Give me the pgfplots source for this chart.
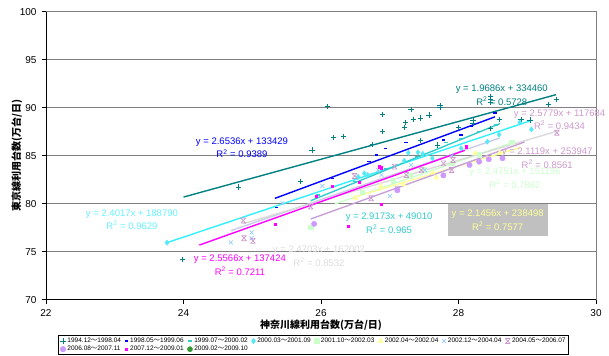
\documentclass[border=0pt]{standalone}
\usepackage{fontspec}
\setmainfont{Liberation Sans}
\newfontfamily\cjk{Noto Sans CJK JP}
\usepackage{pgfplots}
\pgfplotsset{compat=1.18}
\definecolor{cTeal}{HTML}{008080}
\definecolor{cBlue}{HTML}{0000FF}
\definecolor{cTurq}{HTML}{33CCCC}
\definecolor{cCyanL}{HTML}{33F0FF}
\definecolor{cCyanTxt}{HTML}{66F2FF}
\definecolor{cDiam}{HTML}{55E8F5}
\definecolor{cLGreen}{HTML}{CCFFCC}
\definecolor{cLYellow}{HTML}{FFFF99}
\definecolor{cLBlue}{HTML}{99CCFF}
\definecolor{cPlum}{HTML}{CC99CC}
\definecolor{cLav}{HTML}{CC99FF}
\definecolor{cMag}{HTML}{FF00FF}
\definecolor{cGreen}{HTML}{339933}
\definecolor{cGrayLine}{HTML}{DADADA}
\definecolor{cGrayTxt}{HTML}{DDDDDD}
\definecolor{cGrid}{HTML}{808080}
\definecolor{cBlueGray}{HTML}{C8CCE8}
\definecolor{cLavLine}{HTML}{C8A0D8}
\definecolor{cBox}{HTML}{C0C0C0}
\pgfdeclareplotmark{xbar}{%
  \pgfpathmoveto{\pgfqpoint{-\pgfplotmarksize}{-\pgfplotmarksize}}%
  \pgfpathlineto{\pgfqpoint{\pgfplotmarksize}{\pgfplotmarksize}}%
  \pgfpathmoveto{\pgfqpoint{-\pgfplotmarksize}{\pgfplotmarksize}}%
  \pgfpathlineto{\pgfqpoint{\pgfplotmarksize}{-\pgfplotmarksize}}%
  \pgfpathmoveto{\pgfqpoint{-\pgfplotmarksize}{\pgfplotmarksize}}%
  \pgfpathlineto{\pgfqpoint{\pgfplotmarksize}{\pgfplotmarksize}}%
  \pgfpathmoveto{\pgfqpoint{-\pgfplotmarksize}{-\pgfplotmarksize}}%
  \pgfpathlineto{\pgfqpoint{\pgfplotmarksize}{-\pgfplotmarksize}}%
  \pgfusepathqstroke}
\newcommand{\tl}{{\cjk ～}}
\tikzset{eq/.style={font=\fontsize{9.5}{13.5}\selectfont, align=center, inner sep=1pt}}
\begin{document}
\begin{tikzpicture}
\begin{axis}[
  name=ax,
  scale only axis, width=550pt, height=288pt,
  xmin=22, xmax=30, ymin=70, ymax=100,
  xtick={22,24,26,28,30}, ytick={70,75,80,85,90,95,100},
  ymajorgrids, grid style={cGrid, line width=0.8pt},
  axis line style={cGrid, line width=0.8pt},
  tick align=outside, xtick pos=bottom, ytick pos=left, major tick length=4pt,
  tick style={black, line width=0.8pt},
  ticklabel style={font=\fontsize{10}{12}\selectfont},
  xticklabel style={yshift=-2pt},
  yticklabel style={xshift=-2pt},
  /pgf/number format/assume math mode=true,
  clip=false,
  xlabel={\cjk\bfseries 神奈川線利用台数(万台/日)},
  ylabel={\cjk\bfseries 東京線利用台数(万台/日)},
  xlabel style={at={(axis description cs:0.5,-0.09)}, anchor=center, font=\fontsize{10}{12}\selectfont},
  ylabel style={at={(axis description cs:-0.053,0.5)}, anchor=center, font=\fontsize{10}{12}\selectfont},
  legend columns=8,
  legend cell align=left,
  legend style={at={(0.0218,-0.124)}, anchor=north west, draw=black, line width=0.6pt,
    font=\fontsize{6.5}{7.5}\selectfont, inner xsep=2pt, inner ysep=1.5pt,
    nodes={inner sep=0.8pt, anchor=west},
    /tikz/every even column/.append style={column sep=3pt},
    /tikz/every odd column/.append style={column sep=1pt}, row sep=0.5pt},
  legend image code/.code={\draw[mark repeat=2,mark phase=2,#1] plot coordinates {(0pt,0pt)(3pt,0pt)(6pt,0pt)};},
]
% 1994.12-1998.04
\addplot[only marks, mark=+, mark size=2.6pt, line width=0.8pt, color=cTeal] coordinates {
(23.98,74.2)(24.80,81.75)(25.70,82.34)(25.87,85.59)(26.09,90.09)(26.18,86.87)(26.33,87.02)
(26.75,86.18)(26.89,89.33)(26.89,87.54)(27.22,87.95)(27.23,88.43)(27.31,89.82)(27.35,88.78)
(27.45,88.92)(27.45,86.56)(27.57,89.23)(27.69,86.11)(27.73,90.27)(27.73,90.03)(28.00,87.95)
(28.21,88.71)(28.21,88.4)(28.46,87.85)(28.47,91.2)(28.47,90.9)(28.47,90.6)(28.60,88.78)
(28.91,88.78)(29.04,88.71)(29.31,90.34)(29.42,90.86)};
\addlegendentry{1994.12\tl1998.04}
% 1998.05-1999.06
\addplot[only marks, mark=-, mark size=1.8pt, line width=1.3pt, color=cBlue] coordinates {
(25.35,79.6)(26.17,82.65)(26.70,84.38)(26.81,85.07)(26.94,85.77)(27.24,86.39)(27.78,86.63)
(28.04,87.15)(28.19,88.01)(28.53,89.44)};
\addlegendentry{1998.05\tl1999.06}
% 1999.07-2000.02
\addplot[only marks, mark=-, mark size=2pt, line width=1.3pt, color=cTurq] coordinates {
(25.95,80.9)(26.5,82.3)(26.95,83.6)(27.4,84.9)(27.82,86.39)(28.04,86.74)(28.3,87.5)(28.55,88.2)};
\addlegendentry{1999.07\tl2000.02}
% 2000.03-2001.09
\addplot[only marks, mark=diamond*, mark size=2.6pt, color=cDiam] coordinates {
(23.76,75.94)(26.54,82.8)(26.68,82.99)(26.63,83.16)(27.21,84.48)(27.27,85.3)(27.41,85.35)
(27.48,85.2)(27.62,84.73)(28.04,85.77)(28.42,86.46)(28.59,87.2)(28.89,88.47)(29.06,87.74)};
\addlegendentry{2000.03\tl2001.09}
% 2001.10-2002.03
\addplot[only marks, mark=square*, mark size=2.3pt, color=cLGreen] coordinates {
(25.85,77.55)(26.6,81.2)(27.05,82.4)(27.5,83.6)(27.9,84.2)(28.3,85.1)(28.77,86.4)(27.3,82.9)};
\addlegendentry{2001.10\tl2002.03}
% 2002.04-2002.04
\addplot[only marks, mark=triangle*, mark size=2.8pt, color=cLYellow] coordinates {
(26.5,80.6)(26.87,81.85)(27.2,82.0)(27.62,83.22)(27.68,82.71)(28.24,85.25)(28.6,85.3)};
\addlegendentry{2002.04\tl2002.04}
% 2002.12-2004.04
\addplot[only marks, mark=x, mark size=2.8pt, line width=0.7pt, color=cLBlue] coordinates {
(24.69,75.96)(24.99,77.0)(24.99,76.4)(25.44,80.05)(26.02,81.85)(26.83,83.5)(26.88,82.99)
(27.0,80.8)(27.31,84.03)(27.51,83.51)(27.9,85.0)};
\addlegendentry{2002.12\tl2004.04}
% 2004.05-2006.07
\addplot[only marks, mark=xbar, mark size=2.5pt, line width=0.7pt, color=cPlum] coordinates {
(24.87,78.24)(24.88,76.41)(25.01,76.13)(25.85,79.7)(26.49,82.89)(26.73,80.57)(27.07,83.86)
(27.11,81.5)(27.24,82.99)(27.46,83.5)(27.78,84.2)(27.9,83.51)(27.92,84.55)(29.43,87.39)};
\addlegendentry{2004.05\tl2006.07}
% 2006.08-2007.11
\addplot[only marks, mark=*, mark size=2.7pt, color=cLav] coordinates {
(25.9,77.9)(27.11,81.4)(27.78,82.95)(28.16,84.03)(28.3,84.38)(28.44,84.63)(28.64,84.73)};
\addlegendentry{2006.08\tl2007.11}
% 2007.12-2009.01
\addplot[only marks, mark=square*, mark size=1.1pt, color=cMag] coordinates {
(25.33,77.87)(25.93,80.81)(26.16,81.85)(26.4,77.62)(26.85,83.86)(26.87,83.75)(26.88,79.95)
(28.11,85.94)(26.55,82.2)};
\addlegendentry{2007.12\tl2009.01}
% 2009.02-2009.10
\addlegendimage{only marks, mark=*, mark size=2.5pt, color=cGreen}
\addlegendentry{2009.02\tl2009.10}
% trend lines
\addplot[forget plot, cTeal, line width=1.4pt] coordinates {(24.0,80.692)(29.42,91.362)};
\addplot[forget plot, cBlue, line width=1.4pt] coordinates {(25.33,80.557)(28.53,89.050)};
\addplot[forget plot, cCyanL, line width=1.4pt] coordinates {(23.76,75.943)(29.05,88.648)};
\addplot[forget plot, cTurq, line width=1.4pt] coordinates {(25.85,80.313)(28.6,88.336)};
\addplot[forget plot, cLGreen, line width=1.4pt] coordinates {(26.2,79.967)(28.77,86.328)};
\addplot[forget plot, cLYellow, line width=1.4pt] coordinates {(26.5,80.708)(28.9,85.858)};
\addplot[forget plot, cBlueGray, line width=1.4pt] coordinates {(24.69,77.192)(28.6,86.851)};
\addplot[forget plot, cGrayLine, line width=1.4pt] coordinates {(24.87,77.918)(29.43,87.547)};
\addplot[forget plot, cLavLine, line width=1.4pt] coordinates {(25.85,78.407)(28.96,86.424)};
\addplot[forget plot, cMag, line width=1.4pt] coordinates {(24.23,75.689)(28.09,85.557)};
% black left and bottom axis
\draw[black, line width=0.8pt] (rel axis cs:0,1) -- (rel axis cs:0,0) -- (rel axis cs:1,0);
% equation labels
\node[eq, text=cTeal] at (axis cs:28.63,91.28) {y = 1.9686x + 334460\\R\textsuperscript{2} = 0.5728};
\node[eq, text=cBlue] at (axis cs:24.85,85.82) {y = 2.6536x + 133429\\R\textsuperscript{2} = 0.9389};
\node[eq, text=cCyanTxt] at (axis cs:23.25,78.35) {y = 2.4017x + 188790\\R\textsuperscript{2} = 0.9629};
\node[eq, text=cMag] at (axis cs:24.82,73.59) {y = 2.5566x + 137424\\R\textsuperscript{2} = 0.7211};
\node[eq, text=cGrayTxt] at (axis cs:25.97,74.54) {y = 2.4703x + 162002\\R\textsuperscript{2} = 0.8532};
\node[eq, text=cTurq] at (axis cs:26.99,77.96) {y = 2.9173x + 49010\\R\textsuperscript{2} = 0.965};
\node[eq, text=cLGreen] at (axis cs:28.82,82.65) {y = 2.4751x + 151196\\R\textsuperscript{2} = 0.7862};
\node[eq, text=cLYellow, fill=cBox, minimum width=100pt, minimum height=32pt] at (axis cs:28.57,78.26) {y = 2.1456x + 238498\\R\textsuperscript{2} = 0.7577};
\node[eq, text=cPlum] at (axis cs:29.47,88.76) {y = 2.5779x + 117684\\R\textsuperscript{2} = 0.9434};
\node[eq, text=cPlum] at (axis cs:29.29,84.73) {y = 2.1119x + 253947\\R\textsuperscript{2} = 0.8561};
\end{axis}
\pgfresetboundingbox
\path[use as bounding box] ([xshift=-46pt,yshift=-56pt]ax.south west) rectangle ([xshift=13pt,yshift=11.7pt]ax.north east);
\end{tikzpicture}
\end{document}
